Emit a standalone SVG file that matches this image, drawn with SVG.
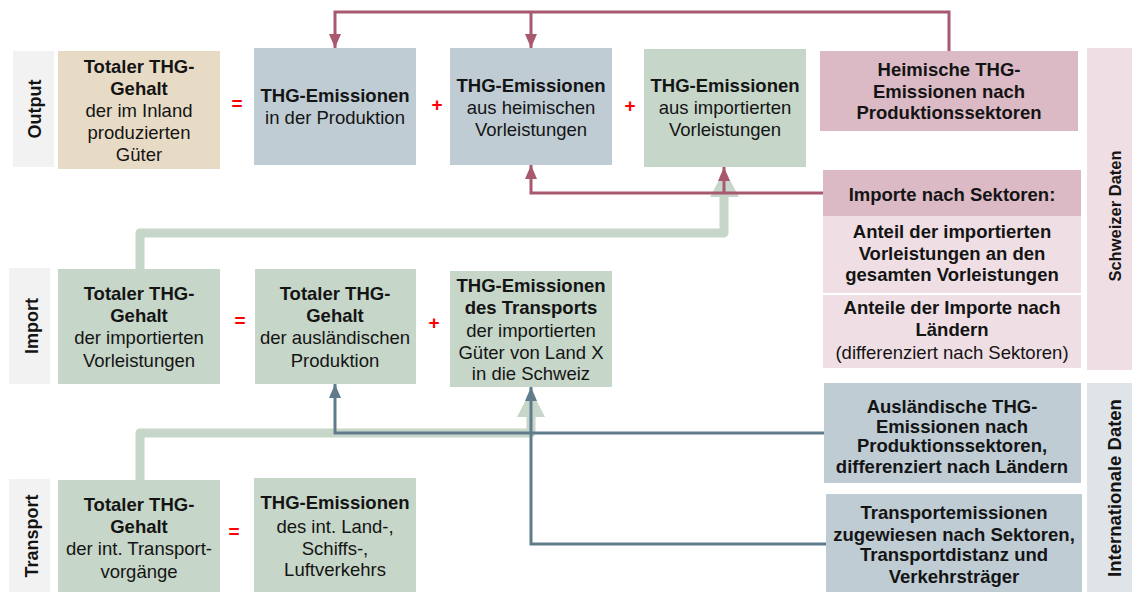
<svg xmlns="http://www.w3.org/2000/svg" width="1132" height="592" viewBox="0 0 1132 592">
<style>
text{font-family:"Liberation Sans",Arial,sans-serif;font-size:18.5px;fill:#141414;text-anchor:middle}
.b{font-weight:bold}
.lab{font-weight:bold;font-size:18px}
.op{font-weight:bold;font-size:19px;fill:#ff0000}
.beige{fill:#e8dbc5}
.blue{fill:#bfccd4}
.green{fill:#c6d6c8}
.pinkH{fill:#dbb9c5}
.pinkL{fill:#efdfe4}
.gray{fill:#f2f2f2}
.intl{fill:#dee4e8}
.pk{fill:none;stroke:#a8586f;stroke-width:3}
.bl{fill:none;stroke:#5f7b8c;stroke-width:3}
.gr{fill:none;stroke:#c6d6c8;stroke-width:9;stroke-linejoin:round}
</style>
<defs>
<marker id="ap" markerUnits="userSpaceOnUse" markerWidth="14" markerHeight="12" refX="14" refY="6" orient="auto" viewBox="0 0 14 12"><path d="M0,0 L14,6 L0,12 z" fill="#a8586f"/></marker>
<marker id="ab" markerUnits="userSpaceOnUse" markerWidth="14" markerHeight="12" refX="14" refY="6" orient="auto" viewBox="0 0 14 12"><path d="M0,0 L14,6 L0,12 z" fill="#5f7b8c"/></marker>
</defs>

<g id="connectors">
<path class="gr" d="M140,269 V233 H724 V196"/>
<polygon points="710,197 739,197 724.5,170" fill="#c6d6c8"/>
<path class="gr" d="M140,480 V433 H531 V416"/>
<polygon points="517,417 545,417 531,390" fill="#c6d6c8"/>
<path class="pk" d="M949,51 V12 H335 V48" marker-end="url(#ap)"/>
<path class="pk" d="M531,12 V48" marker-end="url(#ap)"/>
<path class="pk" d="M823,193 H531 V165" marker-end="url(#ap)"/>
<path class="pk" d="M724,193 V167" marker-end="url(#ap)"/>
<path class="bl" d="M825,433 H335 V384" marker-end="url(#ab)"/>
<path class="bl" d="M826,544 H531 V387" marker-end="url(#ab)"/>
</g>

<g id="label-output"><rect class="gray" x="13" y="51" width="41" height="116"/><text class="lab" transform="translate(41,109) rotate(-90)">Output</text></g>
<g id="label-import"><rect class="gray" x="9" y="268" width="41" height="116"/><text class="lab" transform="translate(38,326) rotate(-90)">Import</text></g>
<g id="label-transport"><rect class="gray" x="9" y="479" width="41" height="113"/><text class="lab" transform="translate(38,536) rotate(-90)">Transport</text></g>

<g id="out-total"><rect class="beige" x="58" y="51" width="162" height="118"/>
<text x="139" y="73" class="b">Totaler THG-</text><text x="139" y="95" class="b">Gehalt</text><text x="139" y="117">der im Inland</text><text x="139" y="139">produzierten</text><text x="139" y="161">Güter</text></g>
<g id="op1"><text class="op" x="237" y="110">=</text></g>
<g id="out-produktion"><rect class="blue" x="254" y="48" width="162" height="117"/>
<text x="335" y="102" class="b">THG-Emissionen</text><text x="335" y="124">in der Produktion</text></g>
<g id="op2"><text class="op" x="437" y="111">+</text></g>
<g id="out-heimisch"><rect class="blue" x="450" y="48" width="162" height="117"/>
<text x="531" y="92" class="b">THG-Emissionen</text><text x="531" y="114">aus heimischen</text><text x="531" y="136">Vorleistungen</text></g>
<g id="op3"><text class="op" x="630" y="112">+</text></g>
<g id="out-importiert"><rect class="green" x="644" y="49" width="162" height="118"/>
<text x="725" y="92" class="b">THG-Emissionen</text><text x="725" y="114">aus importierten</text><text x="725" y="136">Vorleistungen</text></g>

<g id="data-heimisch"><rect class="pinkH" x="820" y="51" width="258" height="80"/>
<text x="949" y="76" class="b">Heimische THG-</text><text x="949" y="98" class="b">Emissionen nach</text><text x="949" y="119" class="b">Produktionssektoren</text></g>

<g id="data-importe"><rect class="pinkH" x="823" y="170" width="258" height="46"/>
<text x="952" y="201" class="b">Importe nach Sektoren:</text>
<rect class="pinkL" x="823" y="216" width="258" height="77"/>
<text x="952" y="238" class="b">Anteil der importierten</text><text x="952" y="260" class="b">Vorleistungen an den</text><text x="952" y="281" class="b">gesamten Vorleistungen</text>
<rect class="pinkL" x="823" y="295" width="258" height="73"/>
<text x="952" y="314" class="b">Anteile der Importe nach</text><text x="952" y="336" class="b">Ländern</text><text x="952" y="359">(differenziert nach Sektoren)</text></g>

<g id="col-schweiz"><rect class="pinkL" x="1087" y="48" width="45" height="322"/><text class="lab" style="font-size:16.5px" transform="translate(1121,216) rotate(-90)">Schweizer Daten</text></g>

<g id="imp-total"><rect class="green" x="58" y="269" width="162" height="115"/>
<text x="139" y="300" class="b">Totaler THG-</text><text x="139" y="322" class="b">Gehalt</text><text x="139" y="344">der importierten</text><text x="139" y="367">Vorleistungen</text></g>
<g id="op4"><text class="op" x="240" y="327">=</text></g>
<g id="imp-ausland"><rect class="green" x="255" y="269" width="161" height="115"/>
<text x="335" y="300" class="b">Totaler THG-</text><text x="335" y="322" class="b">Gehalt</text><text x="335" y="344">der ausländischen</text><text x="335" y="367">Produktion</text></g>
<g id="op5"><text class="op" x="434" y="329">+</text></g>
<g id="imp-transport"><rect class="green" x="450" y="271" width="162" height="116"/>
<text x="531" y="292" class="b">THG-Emissionen</text><text x="531" y="314" class="b">des Transports</text><text x="531" y="337">der importierten</text><text x="531" y="359">Güter von Land X</text><text x="531" y="380">in die Schweiz</text></g>

<g id="tr-total"><rect class="green" x="58" y="480" width="162" height="112"/>
<text x="139" y="511" class="b">Totaler THG-</text><text x="139" y="533" class="b">Gehalt</text><text x="139" y="555">der int. Transport-</text><text x="139" y="578">vorgänge</text></g>
<g id="op6"><text class="op" x="234" y="538">=</text></g>
<g id="tr-emissionen"><rect class="green" x="254" y="478" width="162" height="114"/>
<text x="335" y="509" class="b">THG-Emissionen</text><text x="335" y="533">des int. Land-,</text><text x="335" y="555">Schiffs-,</text><text x="335" y="576">Luftverkehrs</text></g>

<g id="data-ausland"><rect class="blue" x="824" y="383" width="257" height="100"/>
<text x="952" y="413" class="b">Ausländische THG-</text><text x="952" y="433" class="b">Emissionen nach</text><text x="952" y="452" class="b">Produktionssektoren,</text><text x="952" y="473" class="b">differenziert nach Ländern</text></g>
<g id="data-transport"><rect class="blue" x="826" y="494" width="256" height="98"/>
<text x="954" y="519" class="b">Transportemissionen</text><text x="954" y="541" class="b">zugewiesen nach Sektoren,</text><text x="954" y="561" class="b">Transportdistanz und</text><text x="954" y="583" class="b">Verkehrsträger</text></g>

<g id="col-intl"><rect class="intl" x="1087" y="383" width="45" height="209"/><text class="lab" style="font-size:18.5px" transform="translate(1121,488) rotate(-90)">Internationale Daten</text></g>
</svg>
